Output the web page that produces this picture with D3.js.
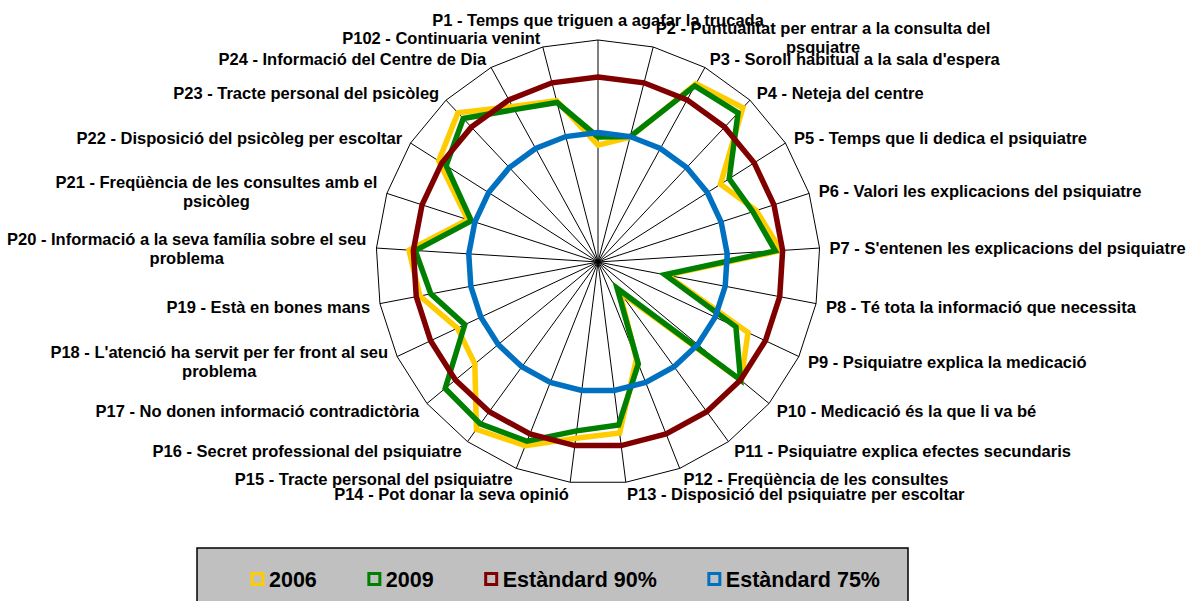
<!DOCTYPE html>
<html>
<head>
<meta charset="utf-8">
<script src="https://cdn.jsdelivr.net/npm/d3@7"></script>
<style>
  html, body { margin: 0; padding: 0; background: #ffffff; }
  svg { display: block; }
  text { font-family: "Liberation Sans", Arial, sans-serif; font-weight: bold; fill: #000; }
</style>
</head>
<body>
<svg id="chart" width="1190" height="601"></svg>
<script>
// ---------------- data ----------------
const categories = [
  ["P1 - Temps que triguen a agafar la trucada"],
  ["P2 - Puntualitat per entrar a la consulta del", "psquiatre"],
  ["P3 - Soroll habitual a la sala d'espera"],
  ["P4 - Neteja del centre"],
  ["P5 - Temps que li dedica el psiquiatre"],
  ["P6 - Valori les explicacions del psiquiatre"],
  ["P7 - S'entenen les explicacions del psiquiatre"],
  ["P8 - Té tota la informació que necessita"],
  ["P9 - Psiquiatre explica la medicació"],
  ["P10 - Medicació és la que li va bé"],
  ["P11 - Psiquiatre explica efectes secundaris"],
  ["P12 - Freqüència de les consultes"],
  ["P13 - Disposició del psiquiatre per escoltar"],
  ["P14 - Pot donar la seva opinió"],
  ["P15 - Tracte personal del psiquiatre"],
  ["P16 - Secret professional del psiquiatre"],
  ["P17 - No donen informació contradictòria"],
  ["P18 - L'atenció ha servit per fer front al seu", "problema"],
  ["P19 - Està en bones mans"],
  ["P20 - Informació a la seva família sobre el seu", "problema"],
  ["P21 - Freqüència de les consultes amb el", "psicòleg"],
  ["P22 - Disposició del psicòleg per escoltar"],
  ["P23 - Tracte personal del psicòleg"],
  ["P24 - Informació del Centre de Dia"],
  ["P102 - Continuaria venint"]
];

const values2006 = [71.6, 74.8, 95.0, 97.2, 79.2, 85.0, 89.5, 59.0, 84.8, 90.2, 50.0, 68.2, 86.6,
                    88.0, 93.4, 95.9, 83.2, 82.0, 89.0, 91.2, 77.0, 91.0, 95.3, 88.0, 85.0];
const values2009 = [73.8, 75.0, 94.3, 95.3, 82.0, 84.0, 88.0, 58.4, 81.2, 90.0, 48.8, 69.6, 84.4,
                    86.0, 92.1, 94.1, 93.6, 79.8, 86.0, 89.5, 76.0, 88.6, 93.2, 87.0, 84.5];
const standard90 = [90, 90, 90, 90, 90, 90, 90, 90, 90, 90, 90, 90, 90,
                    90, 90, 90, 90, 90, 90, 90, 90, 90, 90, 90, 90];
const standard75 = [75, 75, 75, 75, 75, 75, 75, 75, 75, 75, 75, 75, 75,
                    75, 75, 75, 75, 75, 75, 75, 75, 75, 75, 75, 75];

const seriesNames = ["2006", "2009", "Estàndard 90%", "Estàndard 75%"];
const seriesColors = ["#FFCC00", "#008000", "#800000", "#0070C0"];
const axisDomain = [40, 100];

// ---------------- layout ----------------
const svg = d3.select("#chart");
const cx = 598, cy = 262, R = 222;
const n = categories.length;

const angle = d3.scaleLinear().domain([0, n]).range([0, 2 * Math.PI]);
const r = d3.scaleLinear().domain(axisDomain).range([0, R]);

const g = svg.append("g").attr("transform", `translate(${cx},${cy})`);

// outer polygon
const outer = d3.range(n).map(i => [angle(i), R]);
g.append("path")
  .attr("d", d3.lineRadial().angle(d => d[0]).radius(d => d[1]).curve(d3.curveLinearClosed)(outer))
  .attr("fill", "none").attr("stroke", "#000").attr("stroke-width", 1);

// spokes
g.selectAll("line.spoke").data(d3.range(n)).enter().append("line")
  .attr("class", "spoke")
  .attr("x1", 0).attr("y1", 0)
  .attr("x2", i => R * Math.sin(angle(i)))
  .attr("y2", i => -R * Math.cos(angle(i)))
  .attr("stroke", "#000").attr("stroke-width", 1);

// series
const allSeries = [values2006, values2009, standard90, standard75];
const line = d3.lineRadial()
  .angle((d, i) => angle(i))
  .radius(d => r(d))
  .curve(d3.curveLinearClosed);

g.selectAll("path.series").data(allSeries).enter().append("path")
  .attr("class", "series")
  .attr("d", d => line(d))
  .attr("fill", "none")
  .attr("stroke", (d, i) => seriesColors[i])
  .attr("stroke-width", 5.5)
  .attr("stroke-linejoin", "miter");

// labels
const labelSize = 16.5, lineH = 19;
categories.forEach((lines, i) => {
  const a = angle(i);
  const dx = Math.sin(a), dy = -Math.cos(a);
  const vx = cx + R * dx, vy = cy + R * dy;
  const t = svg.append("g");
  const texts = lines.map(s => t.append("text").attr("font-size", labelSize).text(s));
  const widths = texts.map(tx => tx.node().getComputedTextLength());
  const w = d3.max(widths);
  const h = lines.length * lineH;
  let left, centerY;
  if (Math.abs(dx) < 0.05) {
    left = vx - w / 2;
    centerY = vy + dy * (lineH / 2 + 11);
  } else if (dx > 0) {
    left = vx + 10 * dx;
    centerY = vy + dy * 10.5;
  } else {
    left = vx - 10 * Math.abs(dx) - w;
    centerY = vy + dy * 10.5;
  }
  texts.forEach((tx, k) => {
    tx.attr("text-anchor", "middle")
      .attr("x", left + w / 2)
      .attr("y", centerY - h / 2 + k * lineH + lineH / 2 + 1)
      .attr("dy", "0.36em");
  });
});

// legend
const legend = svg.append("g");
legend.append("rect")
  .attr("x", 197).attr("y", 548).attr("width", 711).attr("height", 70)
  .attr("fill", "#C0C0C0").attr("stroke", "#000").attr("stroke-width", 1.5);

let lx = 252;
const ly = 579;
seriesNames.forEach((name, i) => {
  legend.append("rect")
    .attr("x", lx).attr("y", ly - 5.5).attr("width", 11).attr("height", 11)
    .attr("fill", "#C0C0C0").attr("stroke", seriesColors[i]).attr("stroke-width", 3);
  const tx = legend.append("text")
    .attr("x", lx + 17).attr("y", ly).attr("dy", "0.36em")
    .attr("font-size", 21.5).text(name);
  lx += 17 + tx.node().getComputedTextLength() + 52;
});
</script>
</body>
</html>
